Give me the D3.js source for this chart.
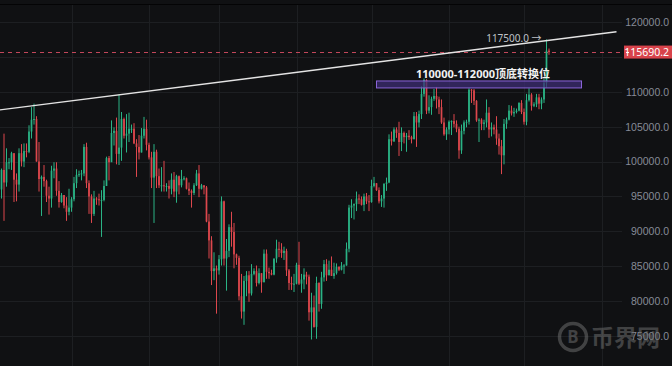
<!DOCTYPE html>
<html>
<head>
<meta charset="utf-8">
<script src="https://cdn.jsdelivr.net/npm/d3@7"></script>
<style>
  html, body { margin: 0; padding: 0; background: #101113; }
  svg { display: block; font-family: "Noto Sans", "Noto Sans CJK SC", sans-serif; }
</style>
</head>
<body>
<div id="chart"></div>
<script>
// BTC/USDT daily, Dec 3 2024 -> Jul 11 2025
const firstDay = "2024-12-03";
const firstOpen = 95860;

const closes = [
  96000, 98800, 97000, 99900, 99900, 101200, 97400, 96700, 101200, 100000, 101500, 101400, 104300, 106000, 106100, 100000, 97500, 97800, 97200, 95100, 94700, 98700, 99000, 95800, 94200, 95200, 93700, 92800, 93400,
  94600, 96900, 98100, 98200, 98300, 102100, 96900, 95000, 92500, 94700, 94600, 94500, 94500, 96500, 100500, 99900, 104100, 104400, 101100, 102000, 106100, 103700, 104000, 104700, 104700, 102600, 102100, 101300, 103700, 104700, 102400,
  100600, 97700, 101400, 97900, 96600, 96600, 96500, 96500, 96100, 97400, 95700, 97900, 96600, 97500, 97600, 96100, 95800, 95500, 96600, 98300, 96100, 96600, 96300, 91400, 88700, 84300, 84700, 84400,
  86000, 94300, 86100, 87200, 90600, 89900, 86700, 86200, 80700, 78500, 82900, 83700, 81100, 83900, 84300, 82600, 84000, 82700, 86800, 84200, 84000, 83800, 86100, 87500, 87400, 86900, 87200, 84400, 82600, 82400, 82500,
  85200, 82500, 83100, 83800, 83500, 78400, 79100, 76300, 82600, 79600, 83400, 85300, 83700, 84500, 83600, 84000, 84900, 84500, 85100, 85100, 87500, 93400, 93700, 93900, 94700, 94600, 93800, 95000, 94300, 94200,
  96500, 96900, 95900, 94300, 94700, 96800, 97000, 103200, 102900, 104600, 104100, 102800, 104100, 103500, 103700, 103500, 103200, 106500, 105600, 106800, 109700, 111700, 107300, 107800, 109000, 109400, 108900, 107800, 105600, 103900, 104600,
  105700, 105800, 105400, 104700, 101600, 104400, 105600, 105700, 110300, 110200, 108700, 105900, 106000, 105400, 105600, 107000, 104600, 104900, 104600, 103300, 102200, 100900, 105400, 106000, 107300, 106900, 107100, 107300, 108400, 107100,
  105700, 108800, 109600, 108000, 108200, 109200, 108300, 108900, 111300, 115900, 115690.2
];
const highs = [
  96300, 99000, 104000, 101900, 100500, 101400, 101200, 98300, 101900, 102500, 102600, 102600, 105200, 107800, 108300, 106500, 102800, 98000, 99500, 97400, 96400, 99400, 99900, 99900, 97200, 95500, 95200, 94900, 96100,
  94900, 97800, 98900, 98700, 98800, 102500, 102700, 97300, 95300, 95800, 94900, 95400, 95900, 97300, 100700, 100800, 105900, 104900, 106300, 109600, 107100, 106300, 106800, 107000, 105300, 105500, 103200, 103800, 104800, 106400, 106000,
  102700, 101400, 102500, 101700, 99000, 99200, 100100, 96900, 97300, 98300, 98500, 98100, 98000, 98800, 97900, 97700, 97000, 96000, 96900, 98800, 99500, 96800, 96600, 96500, 92500, 89300, 87000, 85100,
  86600, 95000, 94400, 88900, 91000, 92800, 91200, 86800, 86500, 83900, 83600, 84300, 84300, 85300, 84700, 85100, 84700, 84000, 87400, 87400, 84800, 84500, 86100, 88800, 88500, 88300, 87800, 87500, 84600, 83500, 83900,
  85500, 88500, 83900, 84700, 84200, 83800, 81200, 80800, 83500, 82700, 84200, 85900, 86000, 85800, 86400, 85500, 85400, 85000, 85600, 85300, 88400, 93800, 94600, 94000, 95700, 95300, 95000, 95400, 95500, 95200,
  97400, 97800, 96900, 96300, 95200, 96900, 97700, 103900, 104300, 104900, 104900, 105700, 104900, 104300, 104100, 104500, 103700, 107100, 107100, 107300, 110800, 111900, 111800, 109500, 109300, 110400, 110700, 109300, 108900, 106300, 104900,
  105900, 105900, 106800, 105900, 105000, 105300, 105900, 106000, 110500, 110400, 110400, 108800, 106200, 106200, 106000, 108900, 107800, 105600, 105300, 106500, 104000, 103100, 106100, 106300, 108100, 108000, 107700, 107600, 108500, 108800,
  107600, 109700, 110500, 109800, 108500, 109700, 109700, 109200, 111900, 117500, 116200
];
const lows = [
  93600, 94700, 91500, 96400, 98900, 98800, 94200, 94300, 95700, 99300, 99200, 100600, 101200, 103300, 105300, 100000, 95700, 92200, 96400, 94200, 92400, 93400, 97600, 95100, 93400, 94100, 93300, 91500, 92300,
  92800, 94300, 96200, 97800, 97300, 97900, 96200, 92500, 91200, 92200, 93800, 93700, 89200, 94300, 96500, 97300, 100000, 102300, 99600, 99500, 100100, 103300, 101300, 102800, 104100, 102500, 97800, 100300, 101300, 103300, 101600,
  100300, 96200, 91200, 96200, 96200, 95700, 95700, 95700, 94700, 95300, 94900, 94100, 95300, 96300, 97300, 96000, 95200, 93400, 95200, 96500, 94900, 96000, 95300, 91300, 86100, 82300, 83000, 78200,
  83800, 85100, 85100, 81500, 86300, 87800, 84700, 85200, 80100, 77500, 76600, 80700, 79900, 80800, 83700, 82100, 82400, 81200, 82700, 83200, 83200, 83700, 83700, 85500, 86300, 86200, 85900, 83600, 81600, 81600, 81300,
  82400, 82300, 81200, 81700, 82400, 77200, 74500, 76200, 74600, 78500, 78900, 82800, 82900, 83700, 83600, 83200, 83800, 84300, 84400, 83900, 85100, 87000, 91900, 91700, 92900, 93900, 93700, 92900, 93900, 92900,
  94100, 96300, 95800, 94000, 93500, 93400, 95800, 96900, 102300, 102800, 103400, 100800, 101500, 102600, 101400, 103100, 102600, 103200, 102100, 104900, 106100, 109300, 106800, 106900, 106700, 108700, 107600, 106800, 105400, 103700, 103100,
  103900, 103800, 104900, 104200, 100400, 101100, 103900, 104900, 105300, 108400, 108100, 105700, 102800, 104500, 104500, 104900, 103400, 103600, 103900, 102400, 101000, 98200, 99600, 104700, 105900, 106600, 106400, 106900, 107200, 106800,
  105300, 105200, 108600, 107300, 107800, 107800, 107500, 107500, 108400, 110600, 115300
];

const priceTicks = [75000, 80000, 85000, 90000, 95000, 100000, 105000, 110000, 115000, 120000];
// 115000 label sits under the last-price tag
const priceLabels = [75000, 80000, 85000, 90000, 95000, 100000, 105000, 110000, 120000];
const lastPrice = 115690.2;
// trend line through the Dec / Jan highs
const trendDates = ["2024-12-03", "2025-08-07"];
const trendPrices = [107380, 118600];
const zoneDates = ["2025-05-03", "2025-07-24"];
const zonePrices = [110550, 111550];
const zoneLabel = "110000-112000顶底转换位";
const highLabel = "117500.0";
const highDate = "2025-07-10";
const highPrice = 117500;

const width = 672;
const height = 366;
const plotRight = 622;

const parse = d3.utcParse("%Y-%m-%d");
const days = d3.utcDay.range(parse(firstDay), d3.utcDay.offset(parse(firstDay), closes.length));
const candles = days.map((d, i) => ({
  date: d,
  open: i === 0 ? firstOpen : closes[i - 1],
  close: closes[i],
  high: highs[i],
  low: lows[i]
}));

const x = d3.scaleUtc()
  .domain([parse("2024-12-03"), parse("2025-08-01")])
  .range([-1, 601.5]);
const y = d3.scaleLinear()
  .domain([75000, 120000])
  .range([336, 22]);

const svg = d3.select("#chart")
  .append("svg")
  .attr("width", width)
  .attr("height", height)
  .attr("viewBox", [0, 0, width, height]);

svg.append("rect")
  .attr("width", width).attr("height", height)
  .attr("fill", "#101113");

svg.append("line")
  .attr("x1", 0).attr("x2", width)
  .attr("y1", 4.5).attr("y2", 4.5)
  .attr("stroke", "#040405");

// grid
const grid = svg.append("g").attr("stroke", "#1d1f22").attr("stroke-width", 1);
grid.selectAll(".h")
  .data(priceTicks)
  .join("line")
  .attr("x1", 0).attr("x2", plotRight)
  .attr("y1", d => Math.round(y(d)) + 0.5)
  .attr("y2", d => Math.round(y(d)) + 0.5);
grid.selectAll(".v")
  .data(x.ticks(d3.utcMonth.every(1)))
  .join("line")
  .attr("x1", d => Math.round(x(d)) + 0.5)
  .attr("x2", d => Math.round(x(d)) + 0.5)
  .attr("y1", 5).attr("y2", height);

// price axis
const yAxis = d3.axisRight(y)
  .tickValues(priceLabels)
  .tickFormat(d3.format(".1f"))
  .tickSize(0);
const axisG = svg.append("g")
  .attr("transform", `translate(${width - 3},0)`)
  .call(yAxis);
axisG.select(".domain").remove();
axisG.selectAll("text")
  .attr("text-anchor", "end")
  .attr("x", 0)
  .attr("fill", "#868b97")
  .attr("font-size", 10.5);

// last price dashed line
svg.append("line")
  .attr("x1", 0).attr("x2", plotRight)
  .attr("y1", Math.round(y(lastPrice)) + 0.5)
  .attr("y2", Math.round(y(lastPrice)) + 0.5)
  .attr("stroke", "#c2475a")
  .attr("stroke-width", 1)
  .attr("stroke-dasharray", "4,4");

// candles
const green = "#2ab385";
const red = "#dd474d";
const bodyW = 1.7;
const cg = svg.append("g");
const candle = cg.selectAll("g")
  .data(candles)
  .join("g")
  .attr("stroke", d => d.close >= d.open ? green : red)
  .attr("fill", d => d.close >= d.open ? green : red);
candle.append("line")
  .attr("x1", d => x(d.date)).attr("x2", d => x(d.date))
  .attr("y1", d => y(d.high)).attr("y2", d => y(d.low))
  .attr("stroke-width", 1);
candle.append("rect")
  .attr("x", d => x(d.date) - bodyW / 2)
  .attr("width", bodyW)
  .attr("y", d => y(Math.max(d.open, d.close)))
  .attr("height", d => Math.max(1, Math.abs(y(d.open) - y(d.close))))
  .attr("stroke", "none");

// trend line
svg.append("line")
  .attr("x1", x(parse(trendDates[0]))).attr("y1", y(trendPrices[0]))
  .attr("x2", x(parse(trendDates[1]))).attr("y2", y(trendPrices[1]))
  .attr("stroke", "#e4e4e4")
  .attr("stroke-width", 1.3);

// support / resistance zone
svg.append("rect")
  .attr("x", x(parse(zoneDates[0])))
  .attr("width", x(parse(zoneDates[1])) - x(parse(zoneDates[0])))
  .attr("y", y(zonePrices[1]))
  .attr("height", y(zonePrices[0]) - y(zonePrices[1]))
  .attr("fill", "#3c2c74")
  .attr("fill-opacity", 0.75)
  .attr("stroke", "#8a64d8")
  .attr("stroke-width", 1);

svg.append("text")
  .attr("x", 483)
  .attr("y", y(zonePrices[1]) - 3)
  .attr("text-anchor", "middle")
  .attr("fill", "#f2f2f2")
  .attr("font-size", 11)
  .attr("font-weight", "bold")
  .text(zoneLabel);

svg.append("text")
  .attr("x", x(parse(highDate)) - 5)
  .attr("y", y(highPrice) + 3)
  .attr("text-anchor", "end")
  .attr("fill", "#bfc2c8")
  .attr("font-size", 10)
  .text(highLabel + " →");

// last price tag
const tagY = y(lastPrice);
svg.append("rect")
  .attr("x", 624).attr("y", tagY - 6.5)
  .attr("width", width - 624).attr("height", 13)
  .attr("fill", "#d8434b");
svg.append("line")
  .attr("x1", 626).attr("x2", 629)
  .attr("y1", Math.round(tagY) + 0.5).attr("y2", Math.round(tagY) + 0.5)
  .attr("stroke", "#ffffff");
svg.append("text")
  .attr("x", width - 3)
  .attr("y", tagY)
  .attr("dy", "0.35em")
  .attr("text-anchor", "end")
  .attr("fill", "#ffffff")
  .attr("font-size", 10.5)
  .text(d3.format(".1f")(lastPrice));

// watermark
const wm = svg.append("g").attr("opacity", 0.5);
wm.append("circle")
  .attr("cx", 573).attr("cy", 337).attr("r", 13.5)
  .attr("fill", "none").attr("stroke", "#737373").attr("stroke-width", 3.5);
wm.append("text")
  .attr("x", 573).attr("y", 337).attr("dy", "0.36em")
  .attr("text-anchor", "middle")
  .attr("fill", "#737373").attr("font-size", 17).attr("font-weight", "bold")
  .text("B");
wm.append("text")
  .attr("x", 591).attr("y", 337).attr("dy", "0.38em")
  .attr("fill", "#737373").attr("font-size", 23).attr("font-weight", "bold")
  .attr("font-family", "Noto Sans CJK SC")
  .text("币界网");
</script>
</body>
</html>
